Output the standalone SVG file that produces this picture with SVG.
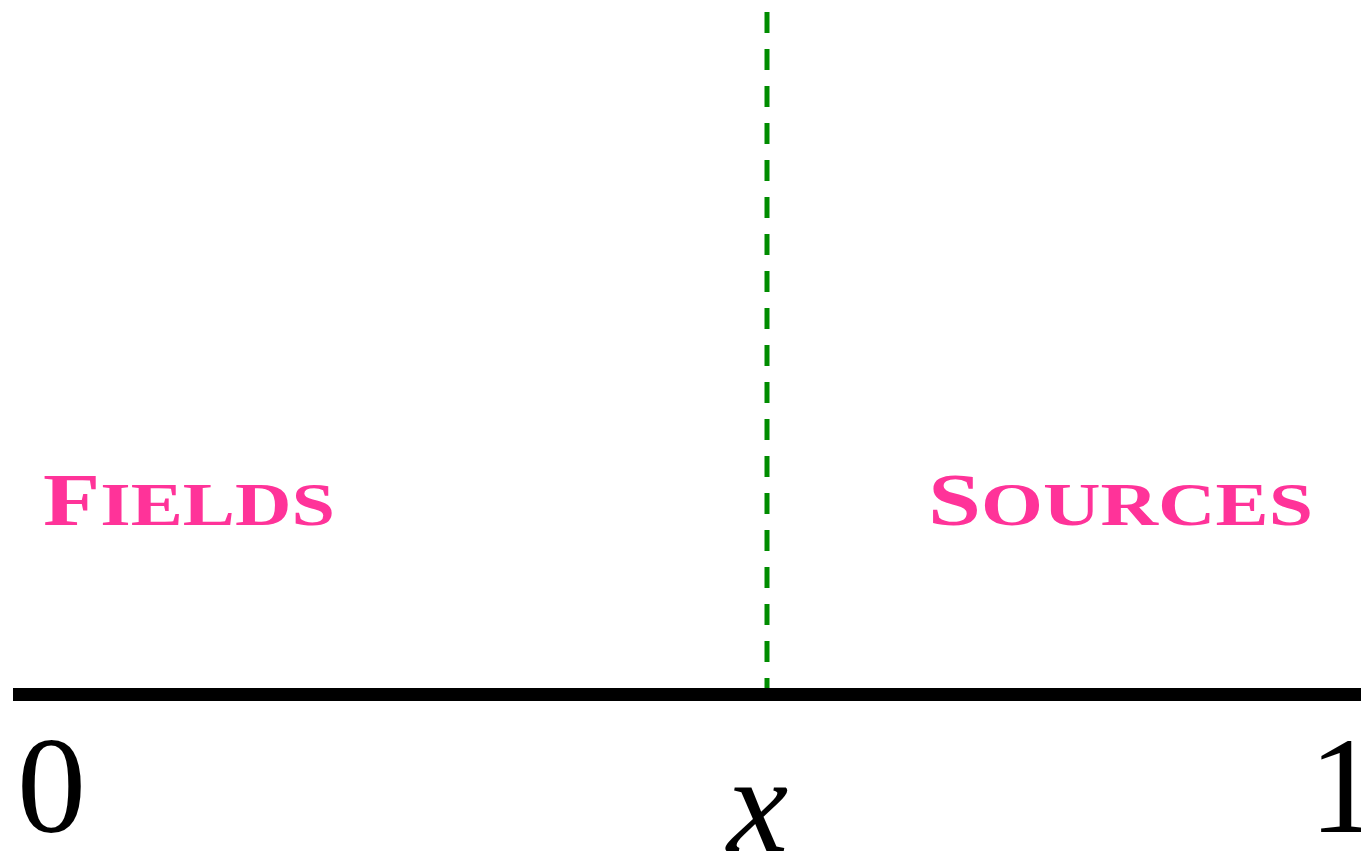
<svg xmlns="http://www.w3.org/2000/svg" width="1361" height="857" viewBox="0 0 1361 857">
<style>
.lbl{font-family:"Liberation Serif",serif;font-weight:bold;fill:#ff3399}
.math{font-family:"Liberation Serif",serif;fill:#000}
</style>
<rect width="1361" height="857" fill="#fff"/>
<g id="connectors">
<line x1="767" y1="12" x2="767" y2="694" stroke="#008c00" stroke-width="5" stroke-dasharray="21 16"/>
<line x1="13" y1="694.5" x2="1361" y2="694.5" stroke="#000" stroke-width="13"/>
</g>
<g id="fields">
<text class="lbl" x="43" y="525" textLength="292" lengthAdjust="spacingAndGlyphs"><tspan font-size="73">F</tspan><tspan font-size="61">IELDS</tspan></text>
</g>
<g id="sources">
<text class="lbl" x="928" y="525" textLength="385" lengthAdjust="spacingAndGlyphs"><tspan font-size="73">S</tspan><tspan font-size="61">OURCES</tspan></text>
</g>
<g id="axis-labels">
<text class="math" x="17" y="832" font-size="138">0</text>
<text class="math" x="727" y="851" font-size="138" font-style="italic">x</text>
<text class="math" x="1309" y="832" font-size="138">1</text>
</g>
</svg>
